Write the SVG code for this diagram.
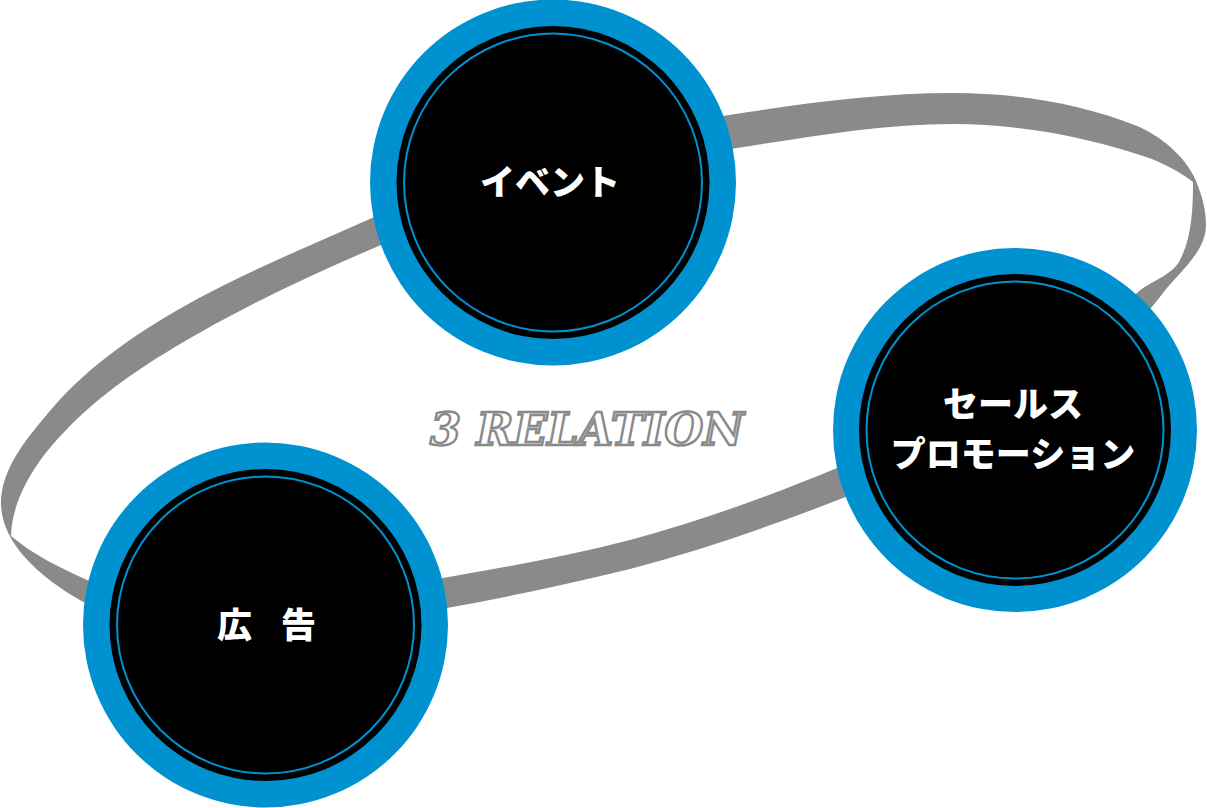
<svg xmlns="http://www.w3.org/2000/svg" width="1207" height="808" viewBox="0 0 1207 808">
  <defs>
    <style>
      .ring { fill: #0092d0; }
      .core { fill: #000000; }
      .inner { fill: none; stroke: #0092d0; stroke-width: 2; }
      .label { font-family: "Noto Sans CJK JP", "Noto Sans", sans-serif; font-weight: 900; font-size: 35px; fill: #ffffff; text-anchor: middle; }
      .band { fill: #8a8a8a; fill-rule: evenodd; }
      .title { font-family: "DejaVu Serif", "Liberation Serif", serif; font-weight: bold; font-style: italic; font-size: 44px; fill: #ffffff; stroke: #8a8a8a; stroke-width: 2.4; }
    </style>
  </defs>
  <rect width="1207" height="808" fill="#ffffff"/>

  <g id="connectors">
    <path class="band" d="M1,503 C1,469 27,438 49,412 C89,364 144,328 199,298 C255,268 314,244 372,218 C484,168 603,135 723,116 C799,104 876,93 953,93 C1015,93 1079,103 1137,126 C1161,136 1186,157 1196,181 C1202,196 1206,209 1206,225 C1206,252 1179,272 1163,293 C1087,394 961,452 843,498 C774,525 702,550 630,569 C569,584 508,597 447,608 C329,627 193,661 87,604 C48,583 1,547 1,503 Z M11,536 C12,497 38,458 68,428 C106,389 153,359 201,332 C259,299 320,271 381,245 C491,198 610,168 730,149 C804,138 878,124 953,124 C1015,124 1078,135 1137,154 C1157,160 1176,169 1193,182 C1193,208 1192,237 1180,260 C1172,276 1150,281 1137,293 C1050,369 944,423 837,468 C770,496 700,521 630,540 C569,556 506,567 443,578 C326,598 195,630 87,580 C61,568 33,555 11,536 Z"/>
  </g>

  <g id="title">
    <text class="title" x="430" y="445" textLength="314" lengthAdjust="spacingAndGlyphs">3 RELATION</text>
  </g>

  <g id="node-event">
    <circle class="ring" cx="553" cy="182.5" r="183"/>
    <circle class="core" cx="553" cy="182.5" r="156.5"/>
    <circle class="inner" cx="553" cy="182.5" r="149"/>
    <text class="label" x="550" y="194.5">イベント</text>
  </g>

  <g id="node-sales">
    <circle class="ring" cx="1015" cy="430" r="182"/>
    <circle class="core" cx="1015" cy="430" r="156"/>
    <circle class="inner" cx="1015" cy="430" r="148.5"/>
    <text class="label" x="1013" y="417">セールス</text>
    <text class="label" x="1013" y="467">プロモーション</text>
  </g>

  <g id="node-ad">
    <circle class="ring" cx="265.5" cy="625" r="182.5"/>
    <circle class="core" cx="265.5" cy="625" r="156"/>
    <circle class="inner" cx="265.5" cy="625" r="148.5"/>
    <text class="label" y="638"><tspan x="238.5">広</tspan> <tspan x="298.5">告</tspan></text>
  </g>
</svg>
